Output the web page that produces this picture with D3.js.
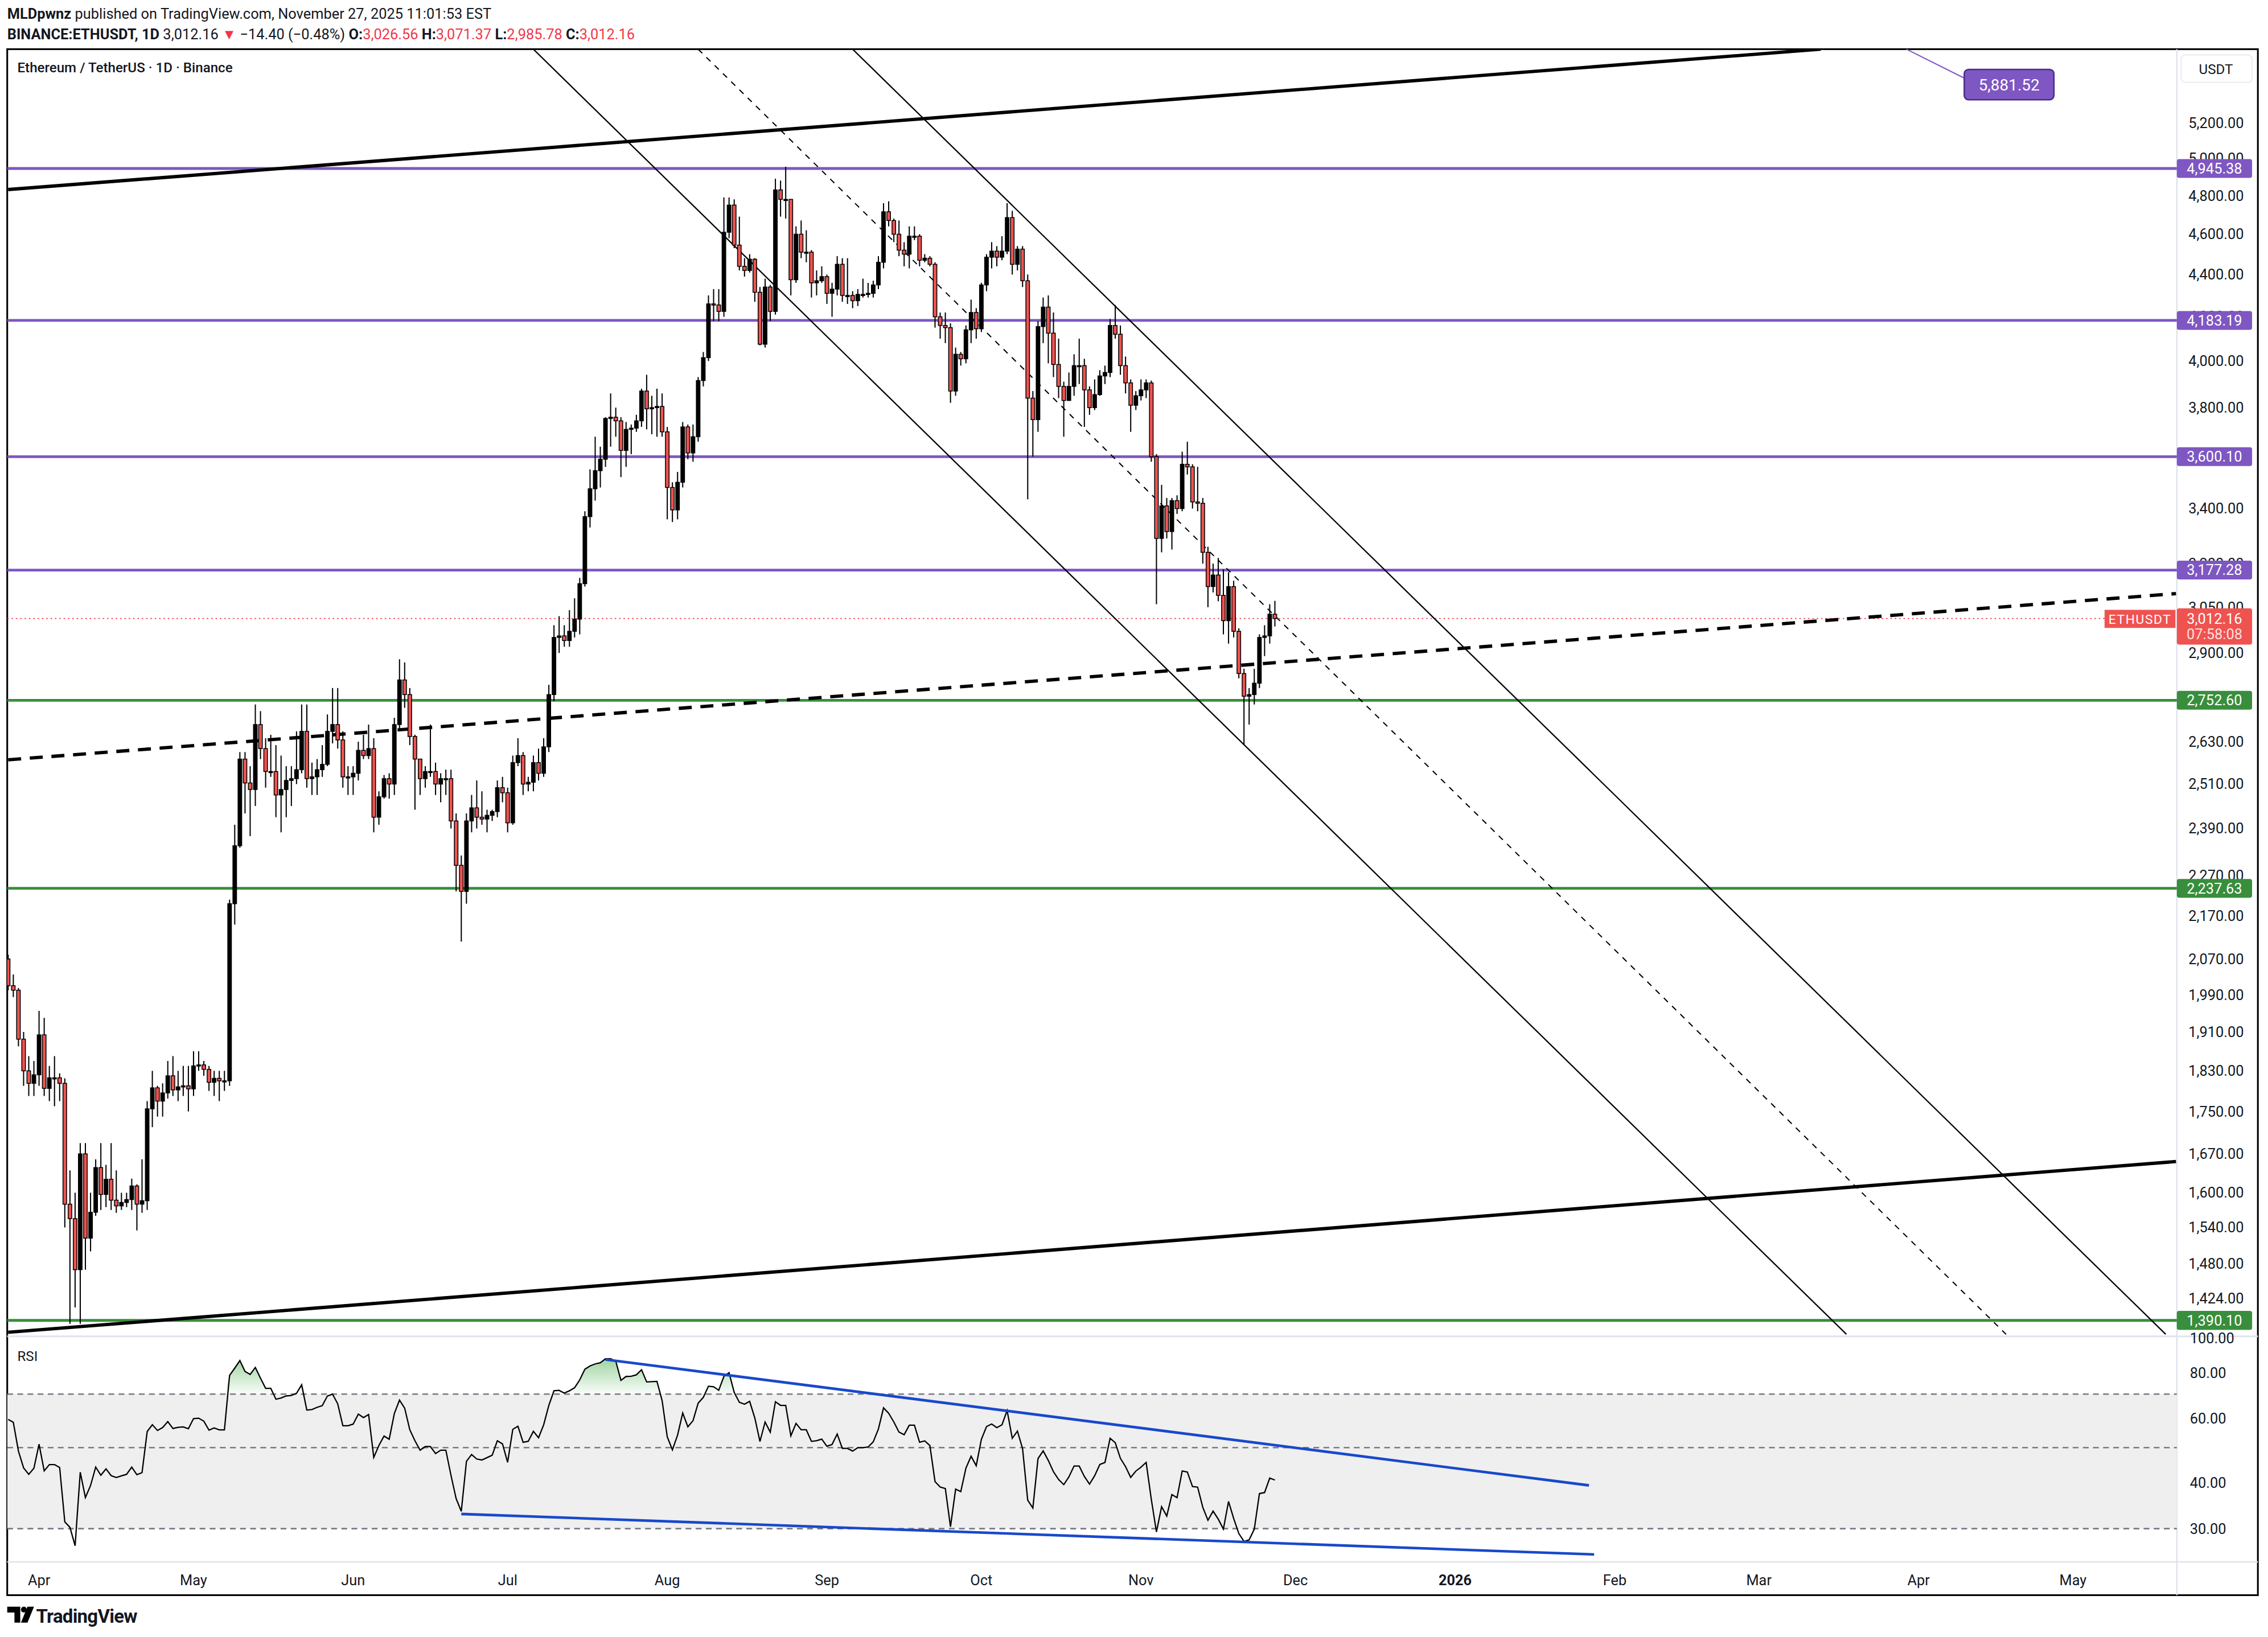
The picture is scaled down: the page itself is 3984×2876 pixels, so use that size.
<!DOCTYPE html>
<html><head><meta charset="utf-8">
<script src="https://cdn.jsdelivr.net/npm/d3@7/dist/d3.min.js"></script>
<style>html,body{margin:0;padding:0;background:#fff;}svg{display:block;}</style>
</head><body>
<script>
// ---------- DATA ----------
const warmupCloses = [1865,1920,1910,1865,1910,1935,1885,1925,1930,2055,1980,1965,1985,2085,2080,2070]; // Mar 10-25 (RSI warm-up)
const startDate = "2025-03-26";
const marC=[2010,2000,1895,1830,1805,1822], marH=[2080,2035,2005,1910,1860,1850], marL=[2000,1985,1880,1800,1780,1780];
const aprC=[1904,1795,1816,1816,1805,1580,1555,1470,1670,1522,1566,1645,1597,1624,1587,1577,1583,1588,1612,1580,1586,1755,1796,1770,1786,1820,1792,1798,1800,1794];
const aprH=[1955,1940,1840,1860,1825,1815,1640,1600,1690,1690,1600,1660,1690,1650,1690,1640,1600,1600,1625,1615,1660,1770,1830,1800,1805,1850,1860,1830,1840,1840];
const aprL=[1800,1780,1770,1760,1770,1540,1385,1410,1385,1470,1500,1560,1570,1575,1570,1565,1570,1575,1570,1535,1565,1570,1720,1740,1740,1775,1780,1770,1780,1750];
const mayC=[1840,1842,1833,1807,1815,1810,1810,2200,2345,2580,2513,2495,2680,2610,2545,2545,2480,2495,2520,2525,2550,2660,2525,2530,2550,2565,2660,2680,2635,2530,2530];
const mayH=[1870,1870,1850,1840,1830,1830,1830,2210,2400,2600,2600,2560,2740,2720,2640,2650,2620,2590,2560,2560,2660,2740,2740,2570,2580,2620,2710,2790,2790,2660,2560];
const mayL=[1780,1830,1820,1790,1780,1770,1790,1800,2150,2340,2430,2370,2450,2580,2500,2530,2420,2380,2420,2450,2510,2540,2500,2480,2480,2530,2560,2625,2610,2500,2480];
const junC=[2540,2605,2590,2610,2420,2475,2525,2510,2680,2815,2770,2645,2580,2525,2545,2545,2510,2525,2525,2410,2295,2230,2410,2445,2420,2415,2425,2435,2500,2486];
const junH=[2560,2630,2650,2680,2640,2490,2535,2540,2700,2880,2870,2790,2650,2580,2560,2680,2570,2540,2550,2550,2430,2320,2430,2480,2520,2490,2440,2440,2520,2530];
const junL=[2480,2520,2580,2580,2380,2400,2470,2470,2480,2660,2730,2620,2440,2480,2500,2530,2480,2460,2480,2390,2230,2110,2200,2380,2390,2400,2380,2410,2420,2460];
const julC=[2405,2570,2590,2510,2515,2570,2540,2615,2770,2950,2955,2940,2970,3010,3130,3370,3475,3545,3590,3755,3760,3745,3625,3710,3715,3745,3870,3795,3800,3805,3700];
const julH=[2500,2590,2640,2600,2530,2590,2610,2640,2800,2990,3020,2990,3040,3080,3150,3390,3550,3680,3640,3760,3860,3800,3760,3740,3730,3770,3880,3940,3850,3880,3860];
const julL=[2380,2400,2560,2480,2490,2490,2520,2530,2600,2750,2900,2920,2920,2950,2960,3120,3330,3430,3480,3560,3640,3680,3520,3560,3610,3700,3720,3710,3690,3680,3680];
const augC=[3480,3395,3500,3720,3615,3680,3915,4015,4260,4255,4225,4610,4750,4545,4440,4420,4475,4315,4075,4340,4225,4830,4780,4780,4375,4600,4510,4510,4360,4370,4390];
const augH=[3720,3500,3540,3740,3730,3730,3930,4040,4300,4330,4330,4790,4790,4780,4690,4480,4500,4480,4340,4380,4350,4890,4880,4955,4780,4640,4670,4620,4520,4420,4440];
const augL=[3360,3350,3360,3480,3590,3580,3660,3890,4000,4180,4180,4200,4580,4530,4420,4390,4410,4270,4070,4060,4180,4210,4690,4680,4300,4360,4480,4460,4290,4300,4360];
const sepC=[4310,4330,4450,4300,4300,4275,4305,4305,4310,4350,4460,4715,4670,4600,4520,4500,4590,4590,4470,4480,4450,4200,4160,4150,3870,4030,4010,4140,4220,4145];
const sepH=[4400,4360,4490,4480,4480,4320,4330,4380,4360,4370,4490,4760,4770,4680,4670,4560,4640,4640,4600,4500,4490,4460,4220,4220,4170,4060,4040,4160,4280,4240];
const sepL=[4260,4200,4300,4270,4260,4240,4250,4290,4290,4290,4330,4430,4640,4560,4490,4440,4430,4570,4440,4460,4440,4150,4100,4080,3820,3850,3980,3990,4080,4100];
const octC=[4350,4485,4515,4485,4515,4685,4450,4525,4370,3840,3750,4155,4245,4125,3985,3890,3830,3890,3980,3980,3875,3800,3855,3935,3950,4160,4120,3980,3905,3810,3850];
const octH=[4360,4500,4560,4540,4590,4760,4720,4540,4540,4400,3870,4180,4290,4300,4220,4100,3910,3950,4030,4100,4010,3890,3920,3960,3980,4190,4255,4160,4020,3920,3870];
const octL=[4130,4320,4430,4440,4470,4500,4400,4420,4340,3435,3600,3700,4080,3990,3930,3840,3680,3830,3850,3900,3720,3770,3790,3850,3900,3930,4100,3940,3860,3700,3790];
const novC=[3875,3905,3600,3290,3410,3315,3430,3400,3570,3560,3425,3420,3240,3120,3160,3090,3005,3120,2970,2835,2765,2770,2805,2950,2955,3026.56,3012.16];
const novH=[3920,3920,3915,3610,3490,3440,3440,3450,3620,3660,3570,3560,3440,3260,3200,3220,3180,3170,3140,2980,2850,2790,2850,2960,2990,3060,3071.37];
const novL=[3830,3840,3580,3060,3240,3290,3250,3380,3390,3530,3400,3390,3200,3050,3100,3070,2960,2930,2950,2820,2620,2680,2740,2790,2890,2930,2985.78];

const purpleLevels=[4945.38,4183.19,3600.10,3177.28];
const greenLevels=[2752.60,2237.63,1390.10];
const lastPrice=3012.16;
const priceTicks=[5200,5000,4800,4600,4400,4200,4000,3800,3600,3400,3200,3050,2900,2750,2630,2510,2390,2270,2170,2070,1990,1910,1830,1750,1670,1600,1540,1480,1424];
const rsiTicks=[100,80,60,40,30];
const rsiBands=[70,50,30];
const timeTicks=[["2025-04-01","Apr"],["2025-05-01","May"],["2025-06-01","Jun"],["2025-07-01","Jul"],["2025-08-01","Aug"],["2025-09-01","Sep"],["2025-10-01","Oct"],["2025-11-01","Nov"],["2025-12-01","Dec"],["2026-01-01","2026"],["2026-02-01","Feb"],["2026-03-01","Mar"],["2026-04-01","Apr"],["2026-05-01","May"]];
// drawn trendlines: [date1, price1, date2, price2]
const thickLines=[["2025-03-26",4832,"2026-03-13",5640],["2025-03-26",1372,"2026-05-21",1656]];
const thickDashed=[["2025-03-26",2578,"2026-05-21",3096]];
const channelLines=[["2025-07-06",5640,"2026-03-18",1369],["2025-09-06",5640,"2026-05-19",1369]];
const channelMid=[["2025-08-07",5640,"2026-04-18",1369]];
const rsiLines=[["2025-07-20",87.1,"2026-01-27",39.4],["2025-06-22",32.9,"2026-01-28",25.5]];

// ---------- BUILD ----------
const closes=[].concat(marC,aprC,mayC,junC,julC,augC,sepC,octC,novC);
const highs=[].concat(marH,aprH,mayH,junH,julH,augH,sepH,octH,novH);
const lows=[].concat(marL,aprL,mayL,junL,julL,augL,sepL,octL,novL);
const t0=new Date(startDate+"T00:00:00Z");
const prevClose=[warmupCloses[warmupCloses.length-1]].concat(closes.slice(0,-1));
const candles=closes.map((c,i)=>{const o=prevClose[i];return {d:d3.utcDay.offset(t0,i),o,c,h:Math.max(highs[i],o,c),l:Math.min(lows[i],o,c)};});
// Wilder RSI(14)
const allC=warmupCloses.concat(closes);
const rsiAll=[];let ag=0,al=0;
for(let i=1;i<allC.length;i++){const ch=allC[i]-allC[i-1];const g=Math.max(ch,0),l=Math.max(-ch,0);
  if(i<=14){ag+=g/14;al+=l/14;if(i===14)rsiAll[i]=100-100/(1+ag/al);}
  else{ag=(ag*13+g)/14;al=(al*13+l)/14;rsiAll[i]=100-100/(1+ag/al);}}
const off=warmupCloses.length;
const rsi=candles.map((c,i)=>({d:c.d,v:rsiAll[i+off]})).filter(r=>r.v!=null);

const W=1568,H=2876*1568/3984;
const svg=d3.select("body").append("svg").attr("width",3984).attr("height",2876).attr("viewBox",`0 0 ${W} ${H}`);
const F="Roboto, 'Liberation Sans', sans-serif";
const PL=5,PR=1505,PT=34,PB=924,RT=924,RB=1080,AB=1103,FR=1561;
const x=d3.scaleUtc().domain([new Date("2025-04-01T00:00:00Z"),new Date("2026-01-01T00:00:00Z")]).range([27,1006]);
const y=d3.scaleLog().domain([1390.1,5200]).range([913,85]);
const yr=d3.scaleLog().domain([30,70]).range([1057,964]);
const P=s=>new Date(s+"T00:00:00Z");
const defs=svg.append("defs");
defs.append("clipPath").attr("id","cp").append("rect").attr("x",PL).attr("y",PT).attr("width",PR-PL).attr("height",PB-PT);
defs.append("clipPath").attr("id","cr").append("rect").attr("x",PL).attr("y",RT).attr("width",PR-PL).attr("height",RB-RT);
const gr=defs.append("linearGradient").attr("id","gg").attr("gradientUnits","userSpaceOnUse").attr("x1",0).attr("x2",0).attr("y1",yr(90)).attr("y2",yr(70));
gr.append("stop").attr("offset",0).attr("stop-color","#4caf50").attr("stop-opacity",0.6);
gr.append("stop").attr("offset",1).attr("stop-color","#4caf50").attr("stop-opacity",0.03);

// header
const h1=svg.append("text").attr("x",5).attr("y",13).attr("font-family",F).attr("font-size",10).attr("fill","#131722");
h1.append("tspan").attr("font-weight","bold").text("MLDpwnz");
h1.append("tspan").text(" published on TradingView.com, November 27, 2025 11:01:53 EST");
const h2=svg.append("text").attr("x",5).attr("y",27).attr("font-family",F).attr("font-size",10).attr("fill","#131722");
h2.append("tspan").attr("font-weight","bold").text("BINANCE:ETHUSDT, 1D");
h2.append("tspan").text(" 3,012.16 ");
h2.append("tspan").attr("fill","#f23645").text("▼");
h2.append("tspan").text(" −14.40 (−0.48%) ");
[["O:","3,026.56"],["H:","3,071.37"],["L:","2,985.78"],["C:","3,012.16"]].forEach(([k,v],i)=>{
  h2.append("tspan").attr("font-weight","bold").text((i?" ":"")+k);h2.append("tspan").attr("fill","#f23645").text(v);});

// frame & separators
svg.append("rect").attr("x",PL).attr("y",PT).attr("width",FR-PL).attr("height",AB-PT).attr("fill","none").attr("stroke","#000").attr("stroke-width",1.2);
svg.append("line").attr("x1",PR).attr("x2",PR).attr("y1",PT).attr("y2",AB).attr("stroke","#e0e3eb").attr("stroke-width",1);
svg.append("line").attr("x1",PL).attr("x2",FR).attr("y1",RT).attr("y2",RT).attr("stroke","#e0e3eb").attr("stroke-width",1.2);
svg.append("line").attr("x1",PL).attr("x2",FR).attr("y1",RB).attr("y2",RB).attr("stroke","#e0e3eb").attr("stroke-width",1);

// price axis ticks
const ax=svg.append("g");
priceTicks.forEach(p=>ax.append("text").attr("x",1513).attr("y",y(p)+3.5).attr("font-family",F).attr("font-size",10).attr("fill","#131722").text(d3.format(",.2f")(p)));
svg.append("rect").attr("x",1508).attr("y",38).attr("width",49).attr("height",19).attr("rx",3).attr("fill","#fff").attr("stroke","#eceef2");
svg.append("text").attr("x",1532).attr("y",51).attr("text-anchor","middle").attr("font-family",F).attr("font-size",9.5).attr("fill","#131722").text("USDT");

const pane=svg.append("g").attr("clip-path","url(#cp)");
// levels
purpleLevels.forEach(p=>pane.append("line").attr("x1",PL).attr("x2",PR).attr("y1",y(p)).attr("y2",y(p)).attr("stroke","#7e57c2").attr("stroke-width",1.9));
greenLevels.forEach(p=>pane.append("line").attr("x1",PL).attr("x2",PR).attr("y1",y(p)).attr("y2",y(p)).attr("stroke","#388e3c").attr("stroke-width",1.9));
pane.append("line").attr("x1",PL).attr("x2",PR).attr("y1",y(lastPrice)).attr("y2",y(lastPrice)).attr("stroke","#f23645").attr("stroke-width",0.7).attr("stroke-dasharray","1,2");
// trendlines extended across pane
function seg(g,l,sx,sy,w,dash){const x1=sx(P(l[0])),y1=sy(l[1]),x2=sx(P(l[2])),y2=sy(l[3]);
  g.append("line").attr("x1",x1).attr("y1",y1).attr("x2",x2).attr("y2",y2).attr("stroke",g.attr("data-c")||"#000").attr("stroke-width",w).attr("stroke-dasharray",dash||null);}
thickLines.forEach(l=>seg(pane,l,x,y,2.3));
thickDashed.forEach(l=>seg(pane,l,x,y,2.3,"9,6"));
channelLines.forEach(l=>seg(pane,l,x,y,0.9));
channelMid.forEach(l=>seg(pane,l,x,y,0.8,"4,4"));
// candles
const cw=2.5;
const cg=pane.append("g");
cg.selectAll("line.w").data(candles).join("line").attr("x1",d=>x(d.d)).attr("x2",d=>x(d.d)).attr("y1",d=>y(d.h)).attr("y2",d=>y(d.l)).attr("stroke","#000").attr("stroke-width",0.8);
cg.selectAll("rect").data(candles).join("rect").attr("x",d=>x(d.d)-cw/2).attr("width",cw)
  .attr("y",d=>y(Math.max(d.o,d.c))).attr("height",d=>Math.max(0.8,Math.abs(y(d.o)-y(d.c))))
  .attr("fill",d=>d.c>=d.o?"#000":"#ef5350").attr("stroke","#000").attr("stroke-width",0.6);

// price labels
function plabel(p,col,txt){svg.append("rect").attr("x",1505).attr("y",y(p)-6.5).attr("width",52).attr("height",13).attr("rx",1.5).attr("fill",col);
  svg.append("text").attr("x",1531).attr("y",y(p)+3.5).attr("text-anchor","middle").attr("font-family",F).attr("font-size",10).attr("fill","#fff").text(txt);}
purpleLevels.forEach(p=>plabel(p,"#7e57c2",d3.format(",.2f")(p)));
greenLevels.forEach(p=>plabel(p,"#388e3c",d3.format(",.2f")(p)));
const ly=y(lastPrice);
svg.append("rect").attr("x",1455).attr("y",ly-6).attr("width",49).attr("height",12.5).attr("fill","#ef5350");
svg.append("text").attr("x",1479.5).attr("y",ly+3.5).attr("text-anchor","middle").attr("font-family",F).attr("font-size",9).attr("fill","#fff").attr("letter-spacing",0.6).text("ETHUSDT");
svg.append("rect").attr("x",1505).attr("y",ly-7).attr("width",52).attr("height",25).attr("rx",1.5).attr("fill","#ef5350");
svg.append("text").attr("x",1531).attr("y",ly+3.5).attr("text-anchor","middle").attr("font-family",F).attr("font-size",10).attr("fill","#fff").text("3,012.16");
svg.append("text").attr("x",1531).attr("y",ly+14.5).attr("text-anchor","middle").attr("font-family",F).attr("font-size",10).attr("fill","#fde0e0").text("07:58:08");
// 5881.52 callout
svg.append("line").attr("x1",1318).attr("y1",PT).attr("x2",1360).attr("y2",55).attr("stroke","#7e57c2").attr("stroke-width",0.8);
svg.append("rect").attr("x",1358).attr("y",48).attr("width",62).attr("height",21).attr("rx",3).attr("fill","#7e57c2").attr("stroke","#4a2d8a").attr("stroke-width",1);
svg.append("text").attr("x",1389).attr("y",62.5).attr("text-anchor","middle").attr("font-family",F).attr("font-size",11).attr("fill","#fff").text("5,881.52");
// pane title
svg.append("text").attr("x",12).attr("y",50).attr("font-family",F).attr("font-size",9.5).attr("fill","#131722").attr("font-weight",500).text("Ethereum / TetherUS · 1D · Binance");

// RSI pane
const rp=svg.append("g").attr("clip-path","url(#cr)");
rp.append("rect").attr("x",PL).attr("width",PR-PL).attr("y",yr(70)).attr("height",yr(30)-yr(70)).attr("fill","#efefef");
rsiBands.forEach(v=>rp.append("line").attr("x1",PL).attr("x2",PR).attr("y1",yr(v)).attr("y2",yr(v)).attr("stroke","#787b86").attr("stroke-width",1).attr("stroke-dasharray","4,3"));
rp.append("path").datum(rsi).attr("fill","url(#gg)").attr("d",d3.area().x(d=>x(d.d)).y0(yr(70)).y1(d=>yr(Math.max(70,d.v))));
rp.append("path").datum(rsi).attr("fill","none").attr("stroke","#000").attr("stroke-width",0.9).attr("d",d3.line().x(d=>x(d.d)).y(d=>yr(d.v)));
const rl=rp.append("g");
rsiLines.forEach(l=>rl.append("line").attr("x1",x(P(l[0]))).attr("y1",yr(l[1])).attr("x2",x(P(l[2]))).attr("y2",yr(l[3])).attr("stroke","#1848cc").attr("stroke-width",1.8));
svg.append("text").attr("x",12).attr("y",941).attr("font-family",F).attr("font-size",9.5).attr("fill","#131722").text("RSI");
rsiTicks.forEach(v=>svg.append("text").attr("x",1514).attr("y",Math.max(yr(v)+3.5,RT+5)).attr("font-family",F).attr("font-size",10).attr("fill","#131722").text(d3.format(".2f")(v)));
// redraw 1390 label above the RSI 100 tick overlap
plabel(1390.10,"#388e3c","1,390.10");

// time axis
timeTicks.forEach(([d,t])=>svg.append("text").attr("x",x(P(d))).attr("y",1096).attr("text-anchor","middle").attr("font-family",F).attr("font-size",10).attr("font-weight",t==="2026"?"bold":"normal").attr("fill","#131722").text(t));

// TradingView logo
const lg=svg.append("g");
lg.append("path").attr("d","M5,1111 h9 v11 h-4 v-7 h-5 z").attr("fill","#000");
lg.append("circle").attr("cx",16.5).attr("cy",1113).attr("r",2).attr("fill","#000");
lg.append("path").attr("d","M19,1111 h4.5 l-4.5,11 h-4.5 z").attr("fill","#000");
svg.append("text").attr("x",25).attr("y",1122).attr("font-family",F).attr("font-size",13).attr("font-weight","bold").attr("fill","#131722").attr("letter-spacing",-0.3).text("TradingView");
</script>
</body></html>
